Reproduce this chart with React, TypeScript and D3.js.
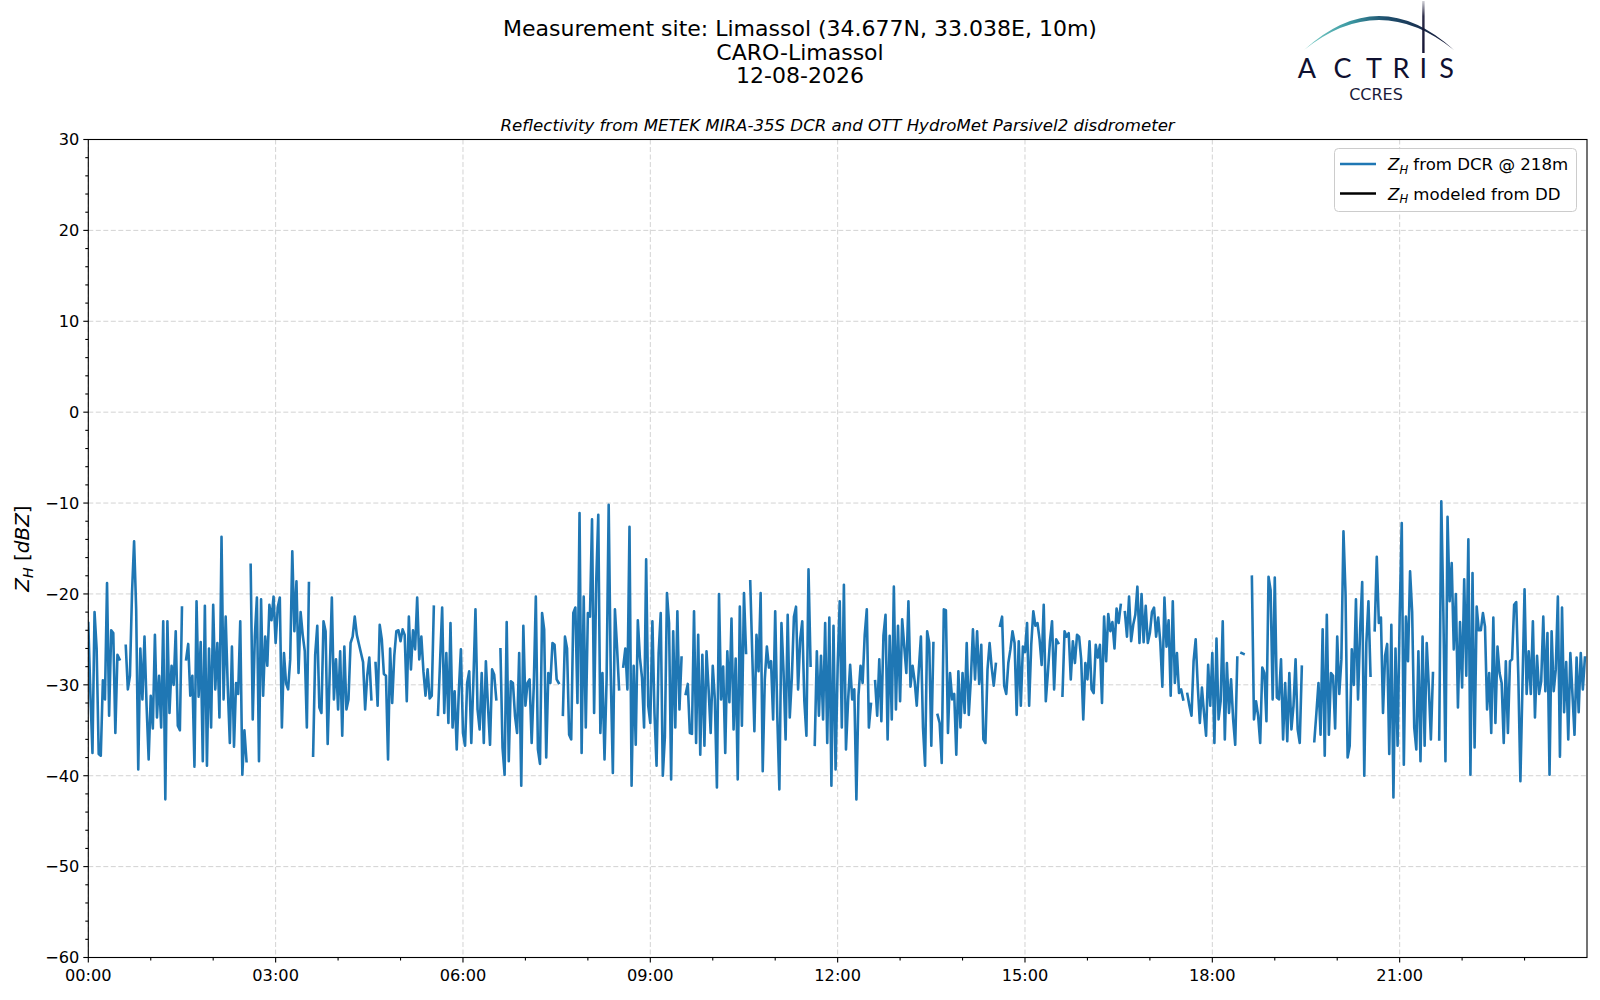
import React from 'react';
import * as d3 from 'd3';

const TITLE_LINES = ['Measurement site: Limassol (34.677N, 33.038E, 10m)', 'CARO-Limassol', '12-08-2026'];
const SUBTITLE = 'Reflectivity from METEK MIRA-35S DCR and OTT HydroMet Parsivel2 disdrometer';

// Z_H from DCR, one value every 2 minutes from 00:00 (null = no data)
const STEP_MINUTES = 2;
const ZH_DCR: (number | null)[] = [
  -23.2, -31, -37.5, -22, -26, -37.6, -37.8, -29.5, -31.6, -18.8,
  -33.4, -24, -24.3, -35.3, -26.7, -27.2, null, null, -25.7, -30.5,
  -29, -19.9, -14.2, -21.7, -39.3, -26, -31.6, -24.7, -32.3, -38.2,
  -31.2, -34.8, -24.5, -33.6, -29, -34.7, -23, -42.6, -23, -33.1,
  -27.9, -30, -24.1, -34.5, -35, -21.5, null, -27.2, -25.5, -31.2,
  -29, -39, -20.8, -31.3, -25.3, -38.4, -21.3, -38.9, -26, -34.7,
  -21.2, -30.5, -25.4, -33.6, -13.7, -31.6, -22.5, -30.3, -36.4, -25.8,
  -36.8, -29.8, -31, -23, -39.9, -35, -38.4, null, -16.8, -33.8,
  -24.7, -20.4, -38.4, -20.6, -31.2, -24.7, -27.9, -21.2, -22.9, -20.3,
  -25.4, -21.5, -20.4, -34.7, -26.5, -29.8, -30.5, -27.2, -15.3, -24.1,
  -18.6, -28.7, -22, -24.5, -26.3, -34.7, -18.8, null, -37.8, -26.7,
  -23.5, -32.5, -33.1, -23, -24.1, -36.5, -28.5, -20.4, -31.6, -27.2,
  -32.7, -26.3, -35.6, -25.8, -32.7, -31.6, -25.4, -24.7, -22.5, -24.5,
  -25.5, -26.5, -27.5, -32.7, -29, -27, -31.6, null, -27.6, -32.3,
  -23.4, -25, -28.8, -29, -38.2, -26, -32, -26.8, -24.1, -24,
  -25.2, -23.9, -24.5, -31.8, -22.5, -28.3, -24, -26.1, -20.4, -27.2,
  -24.7, -28.5, -31.2, -28.3, -31.5, -31.2, -21.4, null, -33.3, -27.4,
  -21.5, -33.1, -26.5, -34.2, -23.2, -34.7, -30.7, -37.1, -30.7, -26.1,
  -35.3, -36.7, -29.8, -28.5, -36.4, -29.6, -21.7, -32.7, -34.9, -28.7,
  -36.4, -27.4, -32.3, -36.6, -28.3, -28.9, -31.6, null, -26.1, -36.9,
  -39.9, -23.1, -38.4, -29.6, -29.8, -33.4, -35.3, -26.5, -41.1, -23.5,
  -32.3, -29.8, -29.4, -36.4, -30.2, -20.3, -37.1, -38.7, -22.1, -23.9,
  -38, -28.7, -29.8, -25.4, -25.6, -29.4, -29.8, null, -33.3, -24.7,
  -26, -35.5, -36, -22.1, -21.5, -32, -11.1, -37.5, -20.3, -34.7,
  -22.1, -22.5, -11.8, -33.1, -18.8, -11.3, -35.3, -28.7, -38.2, -29.4,
  -10.2, -29, -39.7, -21.7, -25.8, -30.5, null, -28, -26, -30.5,
  -12.6, -41.1, -27.9, -36.6, -22.9, -27, -29.2, -34.7, -16.2, -32.3,
  -34.2, -23, -33.1, -38.9, -26.5, -22.1, -40, -35.7, -19.9, -23.2,
  -40.4, -24.1, -34.7, -21.9, -32.7, -27, null, -31, -29.9, -35.3,
  -35.4, -21.9, -36.4, -24.5, -37.7, -26.7, -36.7, -26.3, -30.5, -35.3,
  -27.9, -31.6, -41.3, -20, -31.6, -28, -37.5, -26.3, -31.9, -22.7,
  -34.9, -27.1, -40.4, -21.4, -34.5, -19.9, -26.5, null, -18.6, -26.8,
  -35.1, -24.5, -28.5, -19.9, -39.5, -29.4, -25.8, -28.1, -27.4, -33.8,
  -21.9, -33.4, -41.5, -23.2, -28.5, -36, -22.3, -33.6, -29.2, -22.5,
  -21.4, -30.5, -25, -23, -31.8, -35.6, -17.3, -27.9, null, -36.6,
  -26.3, -33.4, -26.8, -33.8, -23.2, -36.4, -22.6, -41.1, -23.5, -39.3,
  -28, -20.8, -34.7, -19, -37.1, -31.8, -27.8, -31.6, -30.5, -42.6,
  -31.2, -27.9, -29.8, -24.5, -21.7, -34.7, -32.1, null, -29.6, -33.4,
  -27.2, -34, -24.6, -22.3, -36, -24.6, -33.8, -19.2, -32.7, -23.5,
  -31.8, -22.8, -25.8, -28.7, -20.8, -30.2, -27.9, -29.6, -32.3, -28.3,
  -24.7, -34.7, -38.9, -24.1, -25.4, -36.7, -25.4, null, -33.3, -34.2,
  -38.6, -21.7, -21.8, -35.3, -28.7, -31.6, -31, -37.7, -28.5, -34.7,
  -28.7, -33.1, -25.4, -33.3, -29.4, -23.9, -29.4, -24.1, -29.9, -25.6,
  -36, -36.4, -28.3, -25.4, -28.1, -30.1, -27.7, null, -23.5, -22.5,
  -30.1, -31, -27.6, -26.1, -24.1, -25.4, -33.3, -25.2, -32.3, -25.8,
  -26.4, -23.2, -32.3, -25.6, -21.9, -23.5, -23.2, -25, -27.8, -21.2,
  -31.8, -28.7, -25.2, -23, -30.5, -25, -25.4, null, -31.2, -24.1,
  -24.7, -24.3, -29.4, -25.2, -27.6, -24.5, -24.7, -27.2, -33.8, -27.6,
  -29.4, -25.2, -30.5, -30.9, -25.6, -27, -25.6, -32, -22.5, -27.4,
  -22.2, -24.1, -23.1, -26, -21.6, -23.2, -21.2, null, -22, -24.7,
  -20.3, -25.2, -23.4, -22.3, -19.2, -25.4, -20, -25.3, -21.3, -25.4,
  -24.3, -22, -21.5, -24.7, -22.6, -25.3, -30.2, -20.4, -25.8, -22.9,
  -31.2, -20.8, -29.8, -26.5, -30.9, -30.5, -31.6, null, -31, -32.3,
  -33.4, -27.4, -25, -30.1, -34.2, -30.3, -33.1, -35.6, -27.8, -32.3,
  -26.5, -36.4, -24.9, -33.8, -31.8, -23, -36, -27.6, -33.1, -29.4,
  -33.8, -36.6, -27, null, -26.5, -26.6, null, null, null, -18.1,
  -33.8, -31.8, -33.4, -36.4, -28.1, -28.7, -34, -18.1, -19.6, -31.6,
  -18.2, -31.4, -31.6, -27.2, -36, -29.8, -36.2, -28.7, -34.9, -32.3,
  -27.2, -34.9, -36.4, -28, null, null, null, null, null, -36.2,
  -33.1, -29.8, -35.5, -23.9, -37.8, -22.3, -35.5, -28.7, -29, -34.8,
  -24.7, -31, -27.2, -13.1, -20, -38, -36.7, -26.1, -30, -20.6,
  -31.6, -24, -18.7, -40, -25.4, -20.8, -29, null, -24, -15.9,
  -23.2, -22.6, -33.1, -26.8, -25.5, -37.6, -23.4, -42.4, -26, -36.7,
  -22.5, -12.2, -38.8, -22.5, -27.4, -17.5, -22, -34.7, -37.1, -26.3,
  -38.4, -24.7, -36.7, -25.4, -30.2, -36, -28.7, null, null, -36,
  -9.8, -22.1, -38.4, -11.5, -20.8, -16.6, -26.1, -20, -32.5, -23.1,
  -30.3, -18.4, -29, -14, -39.9, -17.7, -36.9, -21.4, -24, -24,
  -22.1, -23.6, -32.7, -28.7, -35.3, -22.6, -34.2, -25.8, -28.7, -29.8,
  -36.4, -27.4, -35.3, -27.4, -27.2, -21.2, -20.9, -29, -40.6, -30.1,
  -19.5, -31, -26.3, -31, -23, -33.6, -26.8, -31, -29.6, -22.5,
  -30.7, -24.3, -39.9, -24.1, -30.7, -28.3, -20.3, -37.9, -21.5, -33,
  -27.5, -36, -26.5, -31, -35.5, -27, -33, -26.5, -30.5, -27,
];

const Y_DOMAIN: [number, number] = [-60, 30];
const Y_MAJOR = [-60, -50, -40, -30, -20, -10, 0, 10, 20, 30];
const X_DOMAIN_MIN: [number, number] = [0, 1440];
const X_MAJOR_MIN = [0, 180, 360, 540, 720, 900, 1080, 1260];
const X_MAJOR_LABELS = ['00:00', '03:00', '06:00', '09:00', '12:00', '15:00', '18:00', '21:00'];

const LEGEND_ITEMS = [
  { text: ' from DCR @ 218m', color: '#1f77b4' },
  { text: ' modeled from DD', color: '#000000' },
];

const FONT = 'DejaVu Sans, sans-serif';
const W = 1600;
const H = 1000;
const PL = 88.3, PR = 1587, PT = 139.5, PB = 957.5;

export default function App() {
  const x = d3.scaleLinear().domain(X_DOMAIN_MIN).range([PL, PR]);
  const y = d3.scaleLinear().domain(Y_DOMAIN).range([PB, PT]);

  const minorX = d3.range(0, 1440, 60).filter((m) => m % 180 !== 0);
  const minorY = d3.range(-60, 31, 2).filter((v) => v % 10 !== 0);

  const line = d3
    .line<number | null>()
    .defined((v) => v !== null)
    .x((_, i) => x(i * STEP_MINUTES))
    .y((v) => y(v as number));
  const pathD = line(ZH_DCR) || '';

  const lx = 1334.5, ly = 148.5, lw = 242, lh = 63;

  return (
    <svg
      width={W}
      height={H}
      viewBox={`0 0 ${W} ${H}`}
      style={{ position: 'absolute', left: 0, top: 0, background: '#fff' }}
      fontFamily={FONT}
    >
      <defs>
        <clipPath id="plotclip">
          <rect x={PL} y={PT} width={PR - PL} height={PB - PT} />
        </clipPath>
        <linearGradient id="arcgrad" x1="1304" y1="0" x2="1454" y2="0" gradientUnits="userSpaceOnUse">
          <stop offset="0" stopColor="#7fd0c8" />
          <stop offset="0.3" stopColor="#3c9aa3" />
          <stop offset="0.55" stopColor="#1f4f6e" />
          <stop offset="1" stopColor="#141433" />
        </linearGradient>
        <linearGradient id="vgrad" x1="0" y1="0" x2="0" y2="54" gradientUnits="userSpaceOnUse">
          <stop offset="0" stopColor="#141433" stopOpacity="0.15" />
          <stop offset="0.3" stopColor="#141433" stopOpacity="0.9" />
          <stop offset="1" stopColor="#141433" />
        </linearGradient>
      </defs>
      <rect x={0} y={0} width={W} height={H} fill="#fff" />

      {/* Titles */}
      {TITLE_LINES.map((t, i) => (
        <text key={t} x={800} y={36 + i * 23.5} textAnchor="middle" fontSize={22} fill="#000">
          {t}
        </text>
      ))}
      <text x={(PL + PR) / 2} y={131} textAnchor="middle" fontSize={16.6} fontStyle="italic" fill="#000">
        {SUBTITLE}
      </text>

      {/* Logo */}
      <g>
        <path d="M1304,50 Q1379,-18 1454,50 Q1379,-10 1304,50 Z" fill="url(#arcgrad)" />
        <rect x={1422.2} y={1} width={2.4} height={52} fill="url(#vgrad)" />
        {['A', 'C', 'T', 'R', 'I', 'S'].map((c, i) => (
          <text
            key={c + i}
            x={[1307, 1342.5, 1374, 1401, 1423.4, 1446.5][i]}
            y={78}
            textAnchor="middle"
            fontSize={27}
            fontFamily="Lato, Noto Sans, sans-serif"
            fontWeight={400}
            fill="#0f1030"
          >
            {c}
          </text>
        ))}
        <text x={1376} y={99.5} textAnchor="middle" fontSize={16} fill="#1a1a3a" fontFamily="DejaVu Sans, sans-serif">
          CCRES
        </text>
      </g>

      {/* Grid */}
      <g stroke="#d3d3d3" strokeWidth={1} strokeDasharray="5,2.5">
        {X_MAJOR_MIN.map((m) => (
          <line key={'gx' + m} x1={x(m)} x2={x(m)} y1={PT} y2={PB} />
        ))}
        {Y_MAJOR.map((v) => (
          <line key={'gy' + v} x1={PL} x2={PR} y1={y(v)} y2={y(v)} />
        ))}
      </g>

      {/* Data */}
      <path
        d={pathD}
        fill="none"
        stroke="#1f77b4"
        strokeWidth={2.6}
        strokeLinejoin="round"
        strokeLinecap="square"
        clipPath="url(#plotclip)"
      />

      {/* Spines */}
      <rect x={PL} y={PT} width={PR - PL} height={PB - PT} fill="none" stroke="#000" strokeWidth={1.1} />

      {/* Ticks */}
      <g stroke="#000" strokeWidth={1.1}>
        {X_MAJOR_MIN.map((m) => (
          <line key={'tx' + m} x1={x(m)} x2={x(m)} y1={PB} y2={PB + 5} />
        ))}
        {minorX.map((m) => (
          <line key={'mx' + m} x1={x(m)} x2={x(m)} y1={PB} y2={PB + 3} />
        ))}
        {Y_MAJOR.map((v) => (
          <line key={'ty' + v} x1={PL - 5} x2={PL} y1={y(v)} y2={y(v)} />
        ))}
        {minorY.map((v) => (
          <line key={'my' + v} x1={PL - 3} x2={PL} y1={y(v)} y2={y(v)} />
        ))}
      </g>
      {X_MAJOR_MIN.map((m, i) => (
        <text key={'lx' + m} x={x(m)} y={981} textAnchor="middle" fontSize={16.2} fill="#000">
          {X_MAJOR_LABELS[i]}
        </text>
      ))}
      {Y_MAJOR.map((v) => (
        <text key={'ly' + v} x={PL - 9} y={y(v) + 5.8} textAnchor="end" fontSize={16.2} fill="#000">
          {v < 0 ? '\u2212' + Math.abs(v) : String(v)}
        </text>
      ))}

      {/* Y label */}
      <text transform={`translate(29,${(PT + PB) / 2}) rotate(-90)`} textAnchor="middle" fontSize={20} fill="#000">
        <tspan fontStyle="italic">Z</tspan>
        <tspan fontStyle="italic" fontSize={14} dy={4}>H</tspan>
        <tspan dy={-4}> [</tspan>
        <tspan fontStyle="italic">dBZ</tspan>
        <tspan>]</tspan>
      </text>

      {/* Legend */}
      <rect x={lx} y={ly} width={lw} height={lh} rx={4} fill="#fff" fillOpacity={0.8} stroke="#cccccc" strokeWidth={1} />
      {LEGEND_ITEMS.map((it, i) => (
        <g key={it.text}>
          <line x1={1340} x2={1376} y1={164 + i * 29.5} y2={164 + i * 29.5} stroke={it.color} strokeWidth={2.4} />
          <text x={1388} y={170 + i * 29.5} fontSize={16.6} fill="#000">
            <tspan fontStyle="italic">Z</tspan>
            <tspan fontStyle="italic" fontSize={11.6} dy={3.5}>H</tspan>
            <tspan dy={-3.5}>{it.text}</tspan>
          </text>
        </g>
      ))}
    </svg>
  );
}
